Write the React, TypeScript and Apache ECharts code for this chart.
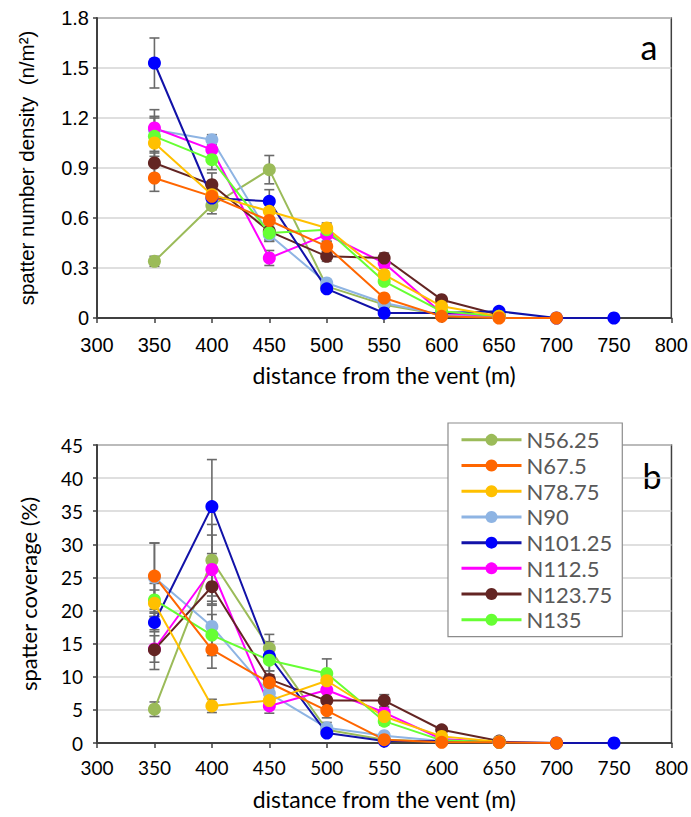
import React, { useEffect, useRef } from "react";
import * as echarts from "echarts";

// ---------- data ----------
const distances = [350, 400, 450, 500, 550, 600, 650, 700, 750];
const seriesNames = ["N56.25", "N67.5", "N78.75", "N90", "N101.25", "N112.5", "N123.75", "N135"];
const seriesColors = ["#9bbb59", "#ff6600", "#ffc000", "#8eb4e3", "#0000ff", "#ff00ff", "#632523", "#66ff33"];
const lineColors = ["#9bbb59", "#ff6600", "#ffc000", "#8eb4e3", "#1212a8", "#ff00ff", "#632523", "#66ff33"];
// order in which the series are painted (later = on top)
const drawOrder = [0, 3, 5, 6, 4, 7, 2, 1];

// (a) spatter number density (n/m2)
const densN5625 = [0.34, 0.675, 0.89, 0.19, 0.08, 0.02, 0.005];
const densN675 = [0.84, 0.73, 0.585, 0.43, 0.12, 0.01, 0.0, 0.0];
const densN7875 = [1.05, 0.74, 0.64, 0.54, 0.26, 0.07, 0.01];
const densN90 = [1.13, 1.07, 0.5, 0.21, 0.09, 0.02, 0.005];
const densN10125 = [1.53, 0.72, 0.7, 0.175, 0.03, 0.03, 0.04, 0.0, 0.0];
const densN1125 = [1.14, 1.01, 0.36, 0.5, 0.33, 0.03, 0.01];
const densN12375 = [0.93, 0.8, 0.52, 0.37, 0.36, 0.11, 0.02];
const densN135 = [1.09, 0.95, 0.51, 0.53, 0.22, 0.04, 0.01];

const densErrN5625 = [0.03, 0.05, 0.085, 0.02, 0.01, 0.005, 0];
const densErrN675 = [0.08, 0.04, 0.04, 0.03, 0.02, 0.005, 0, 0];
const densErrN7875 = [0.06, 0.04, 0.04, 0.03, 0.02, 0.01, 0];
const densErrN90 = [0.07, 0.03, 0.04, 0.02, 0.01, 0.005, 0];
const densErrN10125 = [0.15, 0.07, 0.07, 0.02, 0.01, 0.01, 0.01, 0, 0];
const densErrN1125 = [0.11, 0.06, 0.045, 0.04, 0.03, 0.01, 0];
const densErrN12375 = [0.07, 0.07, 0.05, 0.03, 0.03, 0.01, 0];
const densErrN135 = [0.12, 0.06, 0.05, 0.03, 0.02, 0.01, 0];

// (b) spatter coverage (%)
const covN5625 = [5.1, 27.6, 14.3, 2.0, 0.5, 0.2, 0.1];
const covN675 = [25.2, 14.1, 9.1, 4.9, 0.5, 0.1, 0.1, 0.0];
const covN7875 = [21.1, 5.6, 6.4, 9.4, 4.0, 1.0, 0.2];
const covN90 = [25.0, 17.6, 7.5, 2.3, 1.1, 0.3, 0.1];
const covN10125 = [18.2, 35.7, 13.1, 1.5, 0.3, 0.3, 0.2, 0.0, 0.0];
const covN1125 = [14.2, 26.2, 5.6, 8.0, 4.6, 0.6, 0.1];
const covN12375 = [14.1, 23.6, 9.6, 6.4, 6.4, 2.0, 0.3];
const covN135 = [21.6, 16.3, 12.5, 10.5, 3.3, 0.4, 0.1];

const covErrN5625 = [1.1, 5.4, 2.1, 0.5, 0.2, 0.1, 0];
const covErrN675 = [5.0, 2.8, 1.2, 1.1, 0.3, 0.1, 0, 0];
const covErrN7875 = [2.0, 1.0, 1.0, 1.2, 0.8, 0.3, 0];
const covErrN90 = [5.2, 3.8, 1.5, 0.8, 0.4, 0.1, 0];
const covErrN10125 = [1.4, 7.1, 2.2, 0.5, 0.2, 0.1, 0.1, 0, 0];
const covErrN1125 = [2.0, 5.2, 1.1, 1.0, 0.8, 0.2, 0];
const covErrN12375 = [3.0, 2.8, 1.3, 1.2, 0.9, 0.4, 0.1];
const covErrN135 = [2.5, 3.1, 2.2, 2.2, 0.6, 0.2, 0];

const densValues = [densN5625, densN675, densN7875, densN90, densN10125, densN1125, densN12375, densN135];
const densErrors = [densErrN5625, densErrN675, densErrN7875, densErrN90, densErrN10125, densErrN1125, densErrN12375, densErrN135];
const covValues = [covN5625, covN675, covN7875, covN90, covN10125, covN1125, covN12375, covN135];
const covErrors = [covErrN5625, covErrN675, covErrN7875, covErrN90, covErrN10125, covErrN1125, covErrN12375, covErrN135];

const xTicks = [300, 350, 400, 450, 500, 550, 600, 650, 700, 750, 800];
const densTicks = [0, 0.3, 0.6, 0.9, 1.2, 1.5, 1.8];
const covTicks = [0, 5, 10, 15, 20, 25, 30, 35, 40, 45];

// ---------- styles ----------
const AXIS = "#404040";
const GRIDLINE = "#d4d4d4";
const ERR = "#6a6a6a";
const ARIAL = "'Liberation Sans', Arial, sans-serif";
const CAL = "Lato, 'Open Sans', sans-serif";

function errRender(params: any, api: any) {
  const x = api.value(0);
  const y = api.value(1);
  const e = api.value(2);
  if (!e) return null;
  const top = api.coord([x, y + e]);
  const bot = api.coord([x, y - e]);
  const hw = 5;
  const style = { stroke: ERR, lineWidth: 1.6 };
  return {
    type: "group",
    children: [
      { type: "line", shape: { x1: top[0], y1: top[1], x2: bot[0], y2: bot[1] }, style },
      { type: "line", shape: { x1: top[0] - hw, y1: top[1], x2: top[0] + hw, y2: top[1] }, style },
      { type: "line", shape: { x1: bot[0] - hw, y1: bot[1], x2: bot[0] + hw, y2: bot[1] }, style },
    ],
  };
}

function buildSeries() {
  const out: any[] = [];
  const panels = [
    { vals: densValues, errs: densErrors, idx: 0 },
    { vals: covValues, errs: covErrors, idx: 1 },
  ];
  panels.forEach((p) => {
    drawOrder.forEach((i) => {
      const vals = p.vals[i];
      out.push({
        type: "custom",
        name: "err-" + p.idx + "-" + i,
        xAxisIndex: p.idx,
        yAxisIndex: p.idx,
        renderItem: errRender,
        encode: { x: 0, y: 1 },
        z: 2,
        silent: true,
        data: vals.map((v, j) => [distances[j], v, p.errs[i][j]]),
      });
    });
    drawOrder.forEach((i) => {
      const vals = p.vals[i];
      out.push({
        type: "line",
        name: seriesNames[i],
        xAxisIndex: p.idx,
        yAxisIndex: p.idx,
        symbol: "circle",
        symbolSize: 13,
        showAllSymbol: true,
        z: 3,
        lineStyle: { width: 2, color: lineColors[i] },
        itemStyle: { color: seriesColors[i] },
        emphasis: { disabled: true },
        data: vals.map((v, j) => [distances[j], v]),
      });
    });
  });
  return out;
}

function xAxisFor(gridIndex: number, font: string, nameGap: number) {
  return {
    type: "value",
    gridIndex,
    min: xTicks[0],
    max: xTicks[xTicks.length - 1],
    interval: xTicks[1] - xTicks[0],
    name: "distance from the vent (m)",
    nameLocation: "middle",
    nameGap,
    nameTextStyle: { fontFamily: CAL, fontSize: 23, color: "#000" },
    axisLine: { show: true, onZero: false, lineStyle: { color: AXIS, width: 2 } },
    axisTick: { show: true, inside: false, length: 5, lineStyle: { color: AXIS, width: 1.5 } },
    axisLabel: { fontFamily: font, fontSize: font === ARIAL ? 20 : 19, color: "#000", margin: font === ARIAL ? 17 : 15 },
    splitLine: { show: false },
  };
}

function yAxisFor(gridIndex: number, ticks: number[], name: string, font: string, nameFont: string, nameSize: number, nameGap: number, labelMargin: number) {
  return {
    type: "value",
    gridIndex,
    min: ticks[0],
    max: ticks[ticks.length - 1],
    interval: ticks[1] - ticks[0],
    name,
    nameLocation: "middle",
    nameGap,
    nameRotate: 90,
    nameTextStyle: { fontFamily: nameFont, fontSize: nameSize, color: "#000" },
    axisLine: { show: true, lineStyle: { color: AXIS, width: 2 } },
    axisTick: { show: true, inside: false, length: 4, lineStyle: { color: AXIS, width: 1.5 } },
    axisLabel: { fontFamily: font, fontSize: font === ARIAL ? 20 : 19, color: "#000", margin: labelMargin },
    splitLine: { show: true, lineStyle: { color: GRIDLINE, width: 1.5 } },
  };
}

export default function App() {
  const ref = useRef<HTMLDivElement>(null);
  useEffect(() => {
    if (!ref.current) return;
    const chart = echarts.init(ref.current, null, { renderer: "svg" });
    chart.setOption({
      animation: false,
      backgroundColor: "#ffffff",
      grid: [
        { left: 97, top: 18, width: 575, height: 300, show: true, borderColor: AXIS, borderWidth: 1.5, backgroundColor: "transparent" },
        { left: 97, top: 445, width: 575, height: 298, show: true, borderColor: AXIS, borderWidth: 1.5, backgroundColor: "transparent" },
      ],
      xAxis: [xAxisFor(0, ARIAL, 45), xAxisFor(1, CAL, 44)],
      yAxis: [
        yAxisFor(0, densTicks, "spatter number density  (n/m²)", ARIAL, ARIAL, 20.5, 60, 8),
        yAxisFor(1, covTicks, "spatter coverage (%)", CAL, CAL, 22, 58, 14),
      ],
      legend: {
        data: seriesNames,
        orient: "vertical",
        left: 448,
        top: 423,
        itemWidth: 60,
        itemHeight: 15,
        itemGap: 0,
        padding: [4, 10, 4, 12],
        backgroundColor: "#ffffff",
        borderColor: "#8c8c8c",
        borderWidth: 1.2,
        lineStyle: { width: 3 },
        textStyle: { fontFamily: CAL, fontSize: 22, color: "#595959", lineHeight: 25.7, padding: [0, 0, 0, 0] },
        selectedMode: false,
      },
      graphic: [
        { type: "text", x: 649, y: 46, style: { text: "a", fontFamily: CAL, fontSize: 34, fill: "#000", textAlign: "center", textVerticalAlign: "middle" } },
        { type: "text", x: 652, y: 475, style: { text: "b", fontFamily: CAL, fontSize: 34, fill: "#000", textAlign: "center", textVerticalAlign: "middle" } },
      ],
      series: buildSeries(),
    });
    return () => chart.dispose();
  }, []);
  return <div ref={ref} style={{ position: "absolute", left: 0, top: 0, width: 691, height: 817 }} />;
}
